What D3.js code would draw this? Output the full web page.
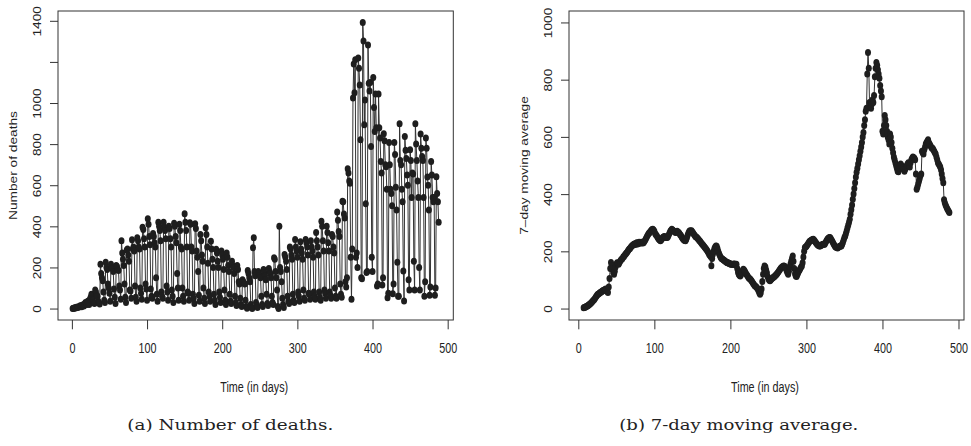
<!DOCTYPE html>
<html>
<head>
<meta charset="utf-8">
<script src="https://cdn.jsdelivr.net/npm/d3@7"></script>
<style>
body { margin: 0; background: #fff; }
svg text { font-family: "Liberation Sans", Arial, sans-serif; fill: #222; }
svg text.caption { font-family: "DejaVu Serif", serif; }
</style>
</head>
<body>
<svg width="971" height="446"></svg>
<script>
// daily deaths, one row per week, first row starts on day 1
var deathsByWeek = [
    [0, 2, 1, 4, 3, 6, 5],
    [8, 6, 10, 14, 12, 9, 16],
    [18, 12, 22, 30, 26, 20, 35],
    [28, 20, 45, 55, 70, 48, 40],
    [30, 25, 90, 80, 65, 60, 35],
    [28, 22, 215, 170, 150, 135, 80],
    [40, 30, 225, 200, 190, 120, 100],
    [75, 35, 215, 200, 195, 180, 95],
    [55, 25, 210, 205, 190, 185, 110],
    [90, 45, 330, 270, 240, 210, 120],
    [55, 30, 285, 290, 260, 230, 90],
    [85, 50, 335, 290, 300, 280, 110],
    [55, 35, 345, 330, 300, 290, 100],
    [75, 45, 395, 385, 340, 300, 120],
    [95, 40, 437, 410, 350, 310, 95],
    [60, 50, 365, 350, 320, 300, 150],
    [70, 35, 420, 400, 380, 330, 80],
    [60, 50, 420, 395, 380, 340, 110],
    [80, 40, 400, 390, 340, 300, 90],
    [60, 30, 415, 400, 350, 320, 170],
    [100, 40, 410, 380, 300, 290, 100],
    [60, 35, 461, 420, 380, 300, 80],
    [75, 40, 417, 410, 300, 280, 70],
    [50, 25, 412, 390, 280, 250, 180],
    [65, 35, 360, 330, 260, 230, 100],
    [50, 25, 393, 360, 300, 220, 80],
    [60, 35, 328, 290, 240, 200, 70],
    [40, 20, 288, 270, 230, 200, 80],
    [55, 30, 280, 260, 240, 190, 90],
    [40, 20, 270, 250, 210, 180, 70],
    [35, 25, 230, 210, 200, 170, 60],
    [30, 15, 210, 190, 130, 120, 50],
    [20, 10, 140, 130, 125, 120, 40],
    [10, 2, 185, 170, 150, 130, 20],
    [5, 0, 296, 345, 180, 160, 30],
    [15, 5, 180, 170, 160, 150, 60],
    [20, 10, 190, 175, 160, 140, 70],
    [25, 15, 195, 180, 170, 150, 60],
    [30, 20, 247, 240, 180, 150, 90],
    [10, 0, 401, 200, 180, 130, 50],
    [20, 5, 263, 250, 230, 190, 60],
    [35, 25, 300, 290, 260, 240, 70],
    [40, 30, 336, 300, 280, 250, 80],
    [60, 35, 325, 290, 270, 240, 90],
    [50, 40, 336, 320, 300, 260, 75],
    [70, 45, 330, 300, 280, 250, 80],
    [60, 45, 370, 330, 300, 260, 80],
    [55, 40, 425, 400, 330, 280, 90],
    [75, 50, 401, 370, 320, 280, 80],
    [65, 50, 360, 350, 300, 270, 100],
    [60, 50, 470, 430, 375, 350, 120],
    [70, 55, 522, 520, 460, 440, 130],
    [105, 150, 680, 660, 620, 610, 250],
    [45, 290, 1024, 1190, 1050, 1210, 250],
    [270, 200, 1219, 1169, 1088, 821, 150],
    [145, 1392, 1302, 894, 1015, 510, 175],
    [180, 1282, 1096, 1059, 1100, 789, 250],
    [180, 1124, 978, 862, 1044, 880, 110],
    [120, 1044, 880, 830, 716, 660, 115],
    [150, 850, 816, 700, 690, 580, 52],
    [75, 808, 700, 580, 560, 500, 72],
    [120, 808, 750, 590, 480, 225, 60],
    [60, 899, 720, 700, 580, 520, 183],
    [37, 837, 770, 730, 650, 600, 140],
    [90, 773, 720, 540, 660, 655, 230],
    [90, 899, 800, 720, 620, 540, 200],
    [90, 849, 780, 740, 720, 540, 60],
    [130, 830, 780, 640, 600, 480, 65],
    [105, 716, 650, 540, 520, 540, 65],
    [100, 641, 560, 520, 420]
];

// 7-day moving average, [first day, values for consecutive days]
var maSegments = [
    [7, [3, 4, 5, 6, 8, 9, 11, 13, 15, 18]],
    [17, [20, 23, 26, 29, 32, 36, 40, 44, 48]],
    [26, [50, 52, 54, 56, 58, 60, 62, 63, 65, 66, 68]],
    [37, [66, 60, 56, 75, 105, 140, 161]],
    [44, [150, 138, 126, 120, 130, 145, 155, 160]],
    [52, [158, 155, 160, 165, 170, 172, 175, 180, 182, 186, 190, 193, 196]],
    [65, [200, 205, 208, 210, 214, 218, 220, 222, 225]],
    [74, [226, 224, 228, 230, 226, 229, 232, 228, 230, 232, 230, 229, 231]],
    [87, [235, 240, 245, 250, 255, 260, 264, 266, 270, 274, 276, 277, 275]],
    [100, [270, 262, 258, 255, 250, 246, 242, 240, 237]],
    [109, [240, 244, 248, 250, 252, 250, 249, 248, 248]],
    [118, [252, 258, 264, 270, 274, 277]],
    [124, [275, 272, 270, 268, 266, 268, 270, 268, 266]],
    [133, [262, 258, 255, 250, 246, 242, 240, 238, 237]],
    [142, [242, 250, 258, 265, 270, 272, 270, 272]],
    [150, [268, 264, 260, 256, 252, 250, 248]],
    [157, [245, 242, 238, 236, 232, 228, 225, 222, 219]],
    [166, [215, 212, 208, 205, 200, 196, 190, 186, 182, 150, 175]],
    [177, [190, 200, 210, 215, 219, 218, 210]],
    [184, [200, 192, 186, 180, 176, 174, 172, 170]],
    [192, [168, 166, 164, 162, 160, 160, 158, 157, 156, 155, 155]],
    [203, [154, 155, 156, 155, 152, 155]],
    [209, [140, 128, 120, 116, 114]],
    [214, [118, 125, 132, 137, 135, 130]],
    [220, [125, 120, 116, 112, 108, 105, 103]],
    [227, [100, 96, 92, 88, 84, 80, 78, 75, 73]],
    [236, [68, 62, 55, 50, 55, 68]],
    [242, [95, 120, 140, 149, 145, 135]],
    [248, [125, 112, 104, 100, 97]],
    [253, [100, 103, 106, 108, 110, 112, 115, 118, 120]],
    [262, [124, 128, 132, 136, 140, 143, 145, 147, 149]],
    [271, [148, 146, 140, 132, 125, 120]],
    [277, [130, 145, 155, 165, 175, 184]],
    [283, [165, 140, 122, 114]],
    [287, [112, 118, 124, 130, 135, 140, 145, 149]],
    [295, [160, 180, 200, 213]],
    [299, [215, 218, 222, 226, 230, 234, 236, 238, 240, 241, 242]],
    [310, [240, 236, 232, 228, 225, 222, 220, 219, 219]],
    [319, [220, 222, 224, 225, 225, 225]],
    [325, [230, 235, 240, 244, 246, 248, 248]],
    [332, [245, 240, 235, 230, 225, 220, 216, 214, 213]],
    [341, [212, 214, 216, 218, 219, 219]],
    [347, [225, 232, 240, 248, 254]],
    [352, [262, 272, 282, 292, 302, 312]],
    [358, [330, 345, 362, 382]],
    [362, [400, 420, 440, 460, 476]],
    [367, [490, 505, 520, 534]],
    [371, [550, 565, 580, 600, 615]],
    [376, [640, 660, 690, 700]],
    [380, [820, 895, 840, 720, 710, 700, 715, 730, 720, 745, 810, 840, 860, 850, 835, 820, 805, 780, 760, 740]],
    [400, [620, 610, 640, 675, 660, 640, 620]],
    [407, [600, 590, 575, 610, 600, 580]],
    [413, [560, 545, 530, 520, 510, 500, 490]],
    [420, [480, 478, 490, 500, 505, 500, 495, 490]],
    [428, [485, 480, 488, 495, 500, 505, 510, 500, 495]],
    [437, [510, 520, 525, 530, 528, 525, 520, 470]],
    [445, [417, 425, 435, 445, 455, 465, 470]],
    [452, [550, 545, 540, 555, 565, 575, 580, 585]],
    [460, [590, 580, 575, 570, 565, 560, 560, 555]],
    [468, [550, 545, 540, 530, 520, 510, 505, 500]],
    [476, [495, 485, 470, 455, 440, 380, 370, 362, 356, 350, 345, 340, 336]]
];

var xTicks = [0, 100, 200, 300, 400, 500];
var deathTicks = [0, 200, 400, 600, 800, 1000, 1200, 1400];
var deathTickLabels = ["0", "200", "400", "600", "800", "1000", "", "1400"];
var maTicks = [0, 200, 400, 600, 800, 1000];
var maTickLabels = ["0", "200", "400", "600", "800", "1000"];
var maLimits = [0, 1000];
var xTitle = "Time (in days)";
var yTitles = ["Number of deaths", "7\u2013day moving average"];
var captions = ["(a)  Number of deaths.", "(b)  7-day moving average."];

var svg = d3.select("svg");
var stretch = 1.27; // figure text is taller than it is wide

var deaths = [];
deathsByWeek.forEach(function (week, w) {
    week.forEach(function (v, i) {
        deaths.push({ day: 1 + w * 7 + i, value: v });
    });
});

var movingAvg = [];
maSegments.forEach(function (seg) {
    seg[1].forEach(function (v, i) {
        movingAvg.push({ day: seg[0] + i, value: v });
    });
});

// R style axis range: 4% padding on each side
function rRange(ext) {
    var d = (ext[1] - ext[0]) * 0.04;
    return [ext[0] - d, ext[1] + d];
}

function drawPanel(p) {
    var xScale = d3.scaleLinear()
        .domain(rRange(d3.extent(p.data, function (d) { return d.day; })))
        .range([p.left, p.right]);
    var yScale = d3.scaleLinear()
        .domain(rRange(p.yLimits || d3.extent(p.data, function (d) { return d.value; })))
        .range([p.bottom, p.top]);

    var g = svg.append("g");

    var line = d3.line()
        .x(function (d) { return xScale(d.day); })
        .y(function (d) { return yScale(d.value); });

    g.append("path")
        .datum(p.data)
        .attr("d", line)
        .attr("fill", "none")
        .attr("stroke", "#333")
        .attr("stroke-width", 1);

    g.selectAll(".pt")
        .data(p.data)
        .enter().append("ellipse")
        .attr("class", "pt")
        .attr("cx", function (d) { return xScale(d.day); })
        .attr("cy", function (d) { return yScale(d.value); })
        .attr("rx", 3)
        .attr("ry", 3.5)
        .attr("fill", "#1e1e1e");

    g.append("rect")
        .attr("x", p.left)
        .attr("y", p.top)
        .attr("width", p.right - p.left)
        .attr("height", p.bottom - p.top)
        .attr("fill", "none")
        .attr("stroke", "#333")
        .attr("stroke-width", 1);

    var xAxis = d3.axisBottom(xScale)
        .tickValues(xTicks)
        .tickSize(9.3)
        .tickSizeOuter(0);
    var gX = g.append("g")
        .attr("transform", "translate(0," + p.bottom + ")")
        .call(xAxis);
    gX.select(".domain").remove();
    gX.selectAll("line").attr("stroke", "#333");
    gX.selectAll("text")
        .attr("y", 0)
        .attr("dy", 0)
        .attr("fill", "#222")
        .style("font-size", "10.8px")
        .attr("transform", "translate(0,32.9) scale(1," + stretch + ")");

    var yAxis = d3.axisLeft(yScale)
        .tickValues(p.yTicks)
        .tickFormat(function (d, i) { return p.yTickLabels[i]; })
        .tickSize(8)
        .tickSizeOuter(0);
    var gY = g.append("g")
        .attr("transform", "translate(" + p.left + ",0)")
        .call(yAxis);
    gY.select(".domain").remove();
    gY.selectAll("line").attr("stroke", "#333");
    gY.selectAll("text")
        .attr("x", 0)
        .attr("dy", 0)
        .attr("fill", "#222")
        .attr("text-anchor", "middle")
        .style("font-size", "10.8px")
        .attr("transform", "translate(-16.6,0) rotate(-90) scale(" + stretch + ",1)");

    g.append("text")
        .attr("text-anchor", "middle")
        .style("font-size", "10.8px")
        .attr("transform", "translate(" + ((p.left + p.right) / 2 - 1.5) + "," + (p.bottom + 71.7) + ") scale(1," + stretch + ")")
        .text(xTitle);

    g.append("text")
        .attr("text-anchor", "middle")
        .style("font-size", "10.8px")
        .attr("transform", "translate(" + (p.left - 41.5) + "," + ((p.top + p.bottom) / 2) + ") rotate(-90) scale(" + stretch + ",1)")
        .text(p.yTitle);

    g.append("text")
        .attr("class", "caption")
        .attr("x", p.captionX)
        .attr("y", 429.5)
        .attr("textLength", p.captionWidth)
        .attr("lengthAdjust", "spacingAndGlyphs")
        .style("font-size", "15px")
        .text(p.caption);
}

drawPanel({
    data: deaths,
    left: 58, right: 453.3, top: 11, bottom: 320,
    yTicks: deathTicks, yTickLabels: deathTickLabels,
    yTitle: yTitles[0],
    caption: captions[0], captionX: 127.3, captionWidth: 206
});

drawPanel({
    data: movingAvg,
    left: 569, right: 964, top: 11, bottom: 320,
    yLimits: maLimits,
    yTicks: maTicks, yTickLabels: maTickLabels,
    yTitle: yTitles[1],
    caption: captions[1], captionX: 619.3, captionWidth: 239
});
</script>
</body>
</html>
